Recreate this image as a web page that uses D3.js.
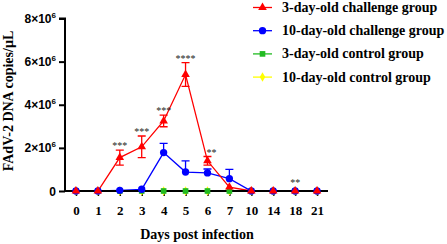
<!DOCTYPE html>
<html>
<head>
<meta charset="utf-8">
<script src="https://cdn.jsdelivr.net/npm/d3@7"></script>
<style>
  body { margin: 0; background: #fff; }
</style>
</head>
<body>
<div id="chart"></div>
<script>
const days = ["0", "1", "2", "3", "4", "5", "6", "7", "10", "14", "18", "21"]
// values in units of 10^6 copies/uL
const challenge3 = [0, 0, 1.55, 2.05, 3.25, 5.4, 1.4, 0.18, 0, 0, 0, 0]
const challenge3Err = [0, 0, 0.35, 0.5, 0.27, 0.55, 0.2, 0, 0, 0, 0, 0]
const challenge10 = [0, 0, 0.03, 0.08, 1.78, 0.88, 0.84, 0.57, 0, 0, 0, 0]
const challenge10Err = [0, 0, 0, 0, 0.43, 0.52, 0.18, 0.43, 0, 0, 0, 0]
const control3 = [0, 0, 0, 0, 0, 0, 0, 0, 0, 0, 0, 0]
const control10 = [0, 0, 0, 0, 0, 0, 0, 0, 0, 0, 0, 0]
const stars = ["", "", "***", "***", "***", "****", "**", "", "", "", "**", ""]
const yTicks = [0, 2, 4, 6, 8]
const groupNames = ["3-day-old challenge group", "10-day-old challenge group", "3-day-old control group", "10-day-old control group"]

const width = 447, height = 244
const serif = "'Liberation Serif', 'Times New Roman', serif"
const sans = "'Liberation Sans', Arial, sans-serif"

const svg = d3.select('#chart').append('svg')
  .attr('width', width).attr('height', height)

const x = d3.scalePoint().domain(days).range([65, 328]).padding(0.5)
const y = d3.scaleLinear().domain([0, 8]).range([191, 18.5])

const series = [
  {name: groupNames[3], values: control10, err: null, color: '#ffff00', shape: d3.symbolDiamond, size: 26},
  {name: groupNames[2], values: control3, err: null, color: '#22bb22', shape: d3.symbolSquare, size: 32},
  {name: groupNames[1], values: challenge10, err: challenge10Err, color: '#0000ff', shape: d3.symbolCircle, size: 42, upperOnly: true},
  {name: groupNames[0], values: challenge3, err: challenge3Err, color: '#ff0000', shape: d3.symbolTriangle, size: 32}
]

// axes
const yAxis = d3.axisLeft(y).tickValues(yTicks).tickSize(6).tickFormat('')
const gy = svg.append('g').attr('transform', 'translate(65,0)').call(yAxis)
gy.select('.domain').attr('stroke-width', 2).attr('d', 'M-6,' + y(8) + 'H0V' + y(0))
gy.selectAll('.tick line').attr('stroke-width', 2)

yTicks.forEach(function(t) {
  const txt = svg.append('text')
    .attr('x', 56).attr('y', y(t) + 4.5)
    .attr('text-anchor', 'end')
    .attr('font-family', sans).attr('font-weight', 'bold').attr('font-size', 12)
  if (t === 0) {
    txt.text('0')
  } else {
    txt.append('tspan').text(t + '×10')
    txt.append('tspan').attr('dy', -5).attr('font-size', 8).text('6')
  }
})

series.forEach(function(s) {
  const line = d3.line().x((d, i) => x(days[i])).y(d => y(d))
  svg.append('path')
    .datum(s.values)
    .attr('fill', 'none')
    .attr('stroke', s.color)
    .attr('stroke-width', 1.3)
    .attr('d', line)
})

const gx = svg.append('g').attr('transform', 'translate(0,191)')
  .call(d3.axisBottom(x).tickSize(5).tickSizeOuter(0))
gx.select('.domain').attr('stroke-width', 2).attr('d', 'M65,0H328')
gx.selectAll('.tick line').attr('stroke-width', 1.5)
gx.selectAll('.tick text')
  .attr('font-family', serif).attr('font-weight', 'bold').attr('font-size', 13)
  .attr('fill', '#000').attr('dy', '1.25em')

// error bars and markers
series.forEach(function(s) {
  const g = svg.append('g')
  if (s.err) {
    s.values.forEach(function(v, i) {
      const e = s.err[i]
      if (!e) return
      const cx = x(days[i])
      const lo = s.upperOnly ? v : v - e
      g.append('path')
        .attr('fill', 'none').attr('stroke', s.color).attr('stroke-width', 1.3)
        .attr('d', 'M' + cx + ',' + y(lo) + 'V' + y(v + e) + 'M' + (cx - 4) + ',' + y(v + e) + 'h8' +
          (s.upperOnly ? '' : 'M' + (cx - 4) + ',' + y(v - e) + 'h8'))
    })
  }
  g.selectAll('path.pt')
    .data(s.values)
    .enter().append('path')
    .attr('class', 'pt')
    .attr('transform', (d, i) => 'translate(' + x(days[i]) + ',' + y(d) + ')')
    .attr('d', d3.symbol().type(s.shape).size(s.size))
    .attr('fill', s.color)
})

// significance stars
stars.forEach(function(st, i) {
  if (!st) return
  const top = challenge3[i] + challenge3Err[i]
  svg.append('text')
    .attr('x', x(days[i]) + (i === 6 ? 4 : 0))
    .attr('y', y(top) - (top === 0 ? 5 : 1))
    .attr('text-anchor', 'middle')
    .attr('font-family', serif).attr('font-size', 10).attr('fill', '#222')
    .text(st)
})

// axis titles
svg.append('text')
  .attr('x', 197).attr('y', 239)
  .attr('text-anchor', 'middle')
  .attr('font-family', serif).attr('font-weight', 'bold').attr('font-size', 14)
  .text('Days post infection')

svg.append('text')
  .attr('transform', 'translate(13,101) rotate(-90)')
  .attr('text-anchor', 'middle')
  .attr('font-family', serif).attr('font-weight', 'bold').attr('font-size', 14)
  .text('FAdV-2 DNA copies/µL')

// legend
const legendOrder = [series[3], series[2], series[1], series[0]]
legendOrder.forEach(function(s, i) {
  const ly = 7.5 + i * 23.2
  svg.append('line')
    .attr('x1', 253).attr('x2', 272).attr('y1', ly).attr('y2', ly)
    .attr('stroke', s.color).attr('stroke-width', 1.3)
  svg.append('path')
    .attr('transform', 'translate(262.5,' + ly + ')')
    .attr('d', d3.symbol().type(s.shape).size(s.size))
    .attr('fill', s.color)
  svg.append('text')
    .attr('x', 282).attr('y', ly + 4.5)
    .attr('font-family', serif).attr('font-weight', 'bold').attr('font-size', 14)
    .text(s.name)
})
</script>
</body>
</html>
